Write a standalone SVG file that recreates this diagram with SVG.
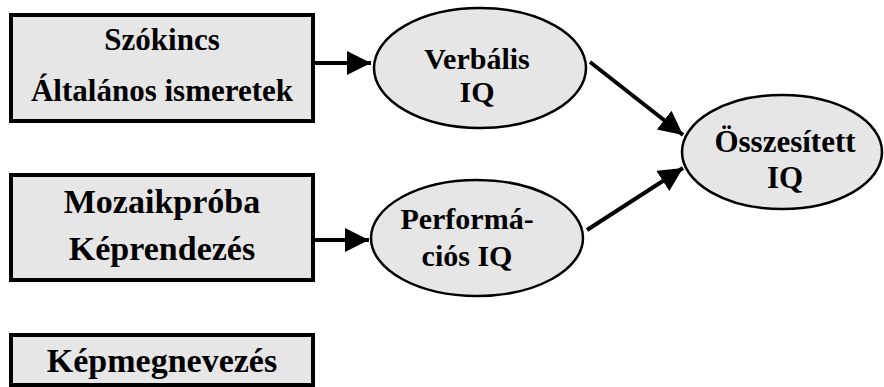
<svg xmlns="http://www.w3.org/2000/svg" width="884" height="387" viewBox="0 0 884 387">
<style>
.box{fill:#e6e6e6;stroke:#000;stroke-width:4}
.ell{fill:#e6e6e6;stroke:#000;stroke-width:2.5}
text{font-family:"Liberation Serif","Times New Roman",serif;font-weight:bold;fill:#000;text-anchor:middle}
.conn{stroke:#000;stroke-width:4;fill:none}
</style>
<defs>
<marker id="ah" markerUnits="userSpaceOnUse" markerWidth="26" markerHeight="26" refX="24" refY="12" orient="auto">
<path d="M0,0 L24,12 L0,24 Z" fill="#000"/>
</marker>
</defs>
<rect width="884" height="387" fill="#fff"/>
<g id="n-szokincs">
<rect class="box" x="11" y="15" width="302" height="106"/>
<text x="162" y="50" font-size="31">Szókincs</text>
<text x="162" y="101" font-size="31">Általános ismeretek</text>
</g>
<g id="n-mozaik">
<rect class="box" x="11" y="175" width="302" height="105"/>
<text x="162" y="213" font-size="34">Mozaikpróba</text>
<text x="162" y="260" font-size="34">Képrendezés</text>
</g>
<g id="n-kepmegnevezes">
<rect class="box" x="11" y="335" width="302" height="50"/>
<text x="162" y="372" font-size="34">Képmegnevezés</text>
</g>
<g id="n-verbalis">
<ellipse class="ell" cx="480" cy="68" rx="106" ry="60"/>
<text x="477" y="69" font-size="30">Verbális</text>
<text x="477" y="102" font-size="30">IQ</text>
</g>
<g id="n-performacios">
<ellipse class="ell" cx="477" cy="238" rx="106" ry="58"/>
<text x="467" y="229" font-size="30">Performá-</text>
<text x="467" y="266" font-size="30">ciós IQ</text>
</g>
<g id="n-osszesitett">
<ellipse class="ell" cx="782" cy="152" rx="100" ry="57"/>
<text x="785" y="152" font-size="31">Összesített</text>
<text x="785" y="188" font-size="31">IQ</text>
</g>
<g id="connectors">
<path class="conn" d="M315,63 L371,63" marker-end="url(#ah)"/>
<path class="conn" d="M315,240 L369,240" marker-end="url(#ah)"/>
<path class="conn" d="M590,62 L683,135" marker-end="url(#ah)"/>
<path class="conn" d="M587,230 L683,168" marker-end="url(#ah)"/>
</g>
</svg>
